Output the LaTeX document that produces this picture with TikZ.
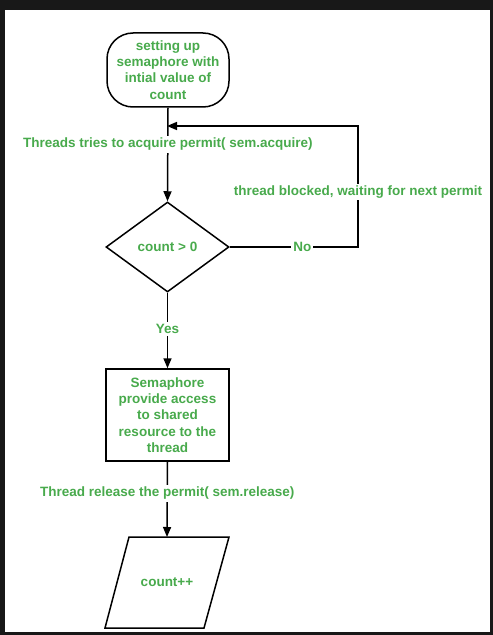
\documentclass[tikz,border=0pt]{standalone}
\usepackage{fontspec}
\setmainfont{Liberation Sans}
\usetikzlibrary{arrows.meta,shapes.geometric}
\definecolor{txtgreen}{RGB}{72,170,76}
\definecolor{framedark}{RGB}{24,24,24}
\begin{document}
\begin{tikzpicture}[x=1bp,y=-1bp,
  every node/.style={font=\bfseries\fontsize{13.5bp}{16.3bp}\selectfont, text=txtgreen},
  shapebox/.style={draw=black, line width=1.5bp, align=center, inner sep=0pt},
  lbl/.style={fill=white, inner sep=2bp},
  conn/.style={draw=black, line width=1.5bp},
  arr/.style={conn, -{Triangle[length=10bp,width=8bp]}}
]
\useasboundingbox (0,0) rectangle (493,635);
\fill[framedark] (0,0) rectangle (493,635);
\fill[white] (5,10) rectangle (490,632);

% nodes
\node[shapebox, rectangle, rounded corners=26bp, minimum width=122bp, minimum height=74bp] (start) at (168,70)
  {setting up\\semaphore with\\intial value of\\count};
\node[shapebox, diamond, minimum width=123bp, minimum height=90bp, aspect=1.37] (dec) at (167.5,247) {count > 0};
\node[shapebox, rectangle, minimum width=123bp, minimum height=92bp] (res) at (167.5,415)
  {Semaphore\\provide access\\to shared\\resource to the\\thread};
\node (cnt) at (167,582) {count++};
\draw[line width=1.5bp] (129,537) -- (229,537) -- (204,628) -- (105,628) -- cycle;
\coordinate (cnttop) at (167,537);

\coordinate (nocorner) at (358,247);
\coordinate (topcorner) at (358,126);
\coordinate (join) at (167,126);

% connectors
\draw[arr] (start.south) -- node[lbl, pos=0.39] {Threads tries to acquire permit( sem.acquire)} (dec.north);
\draw[arr] (dec.east) -- node[lbl, pos=0.566] {No} (nocorner)
  -- node[lbl, pos=0.455] {thread blocked, waiting for next permit} (topcorner) -- (join);
\draw[arr] (dec.south) -- node[lbl, pos=0.48] {Yes} (res.north);
\draw[arr] (res.south) -- node[lbl, pos=0.42] {Thread release the permit( sem.release)} (cnttop);
\end{tikzpicture}
\end{document}
